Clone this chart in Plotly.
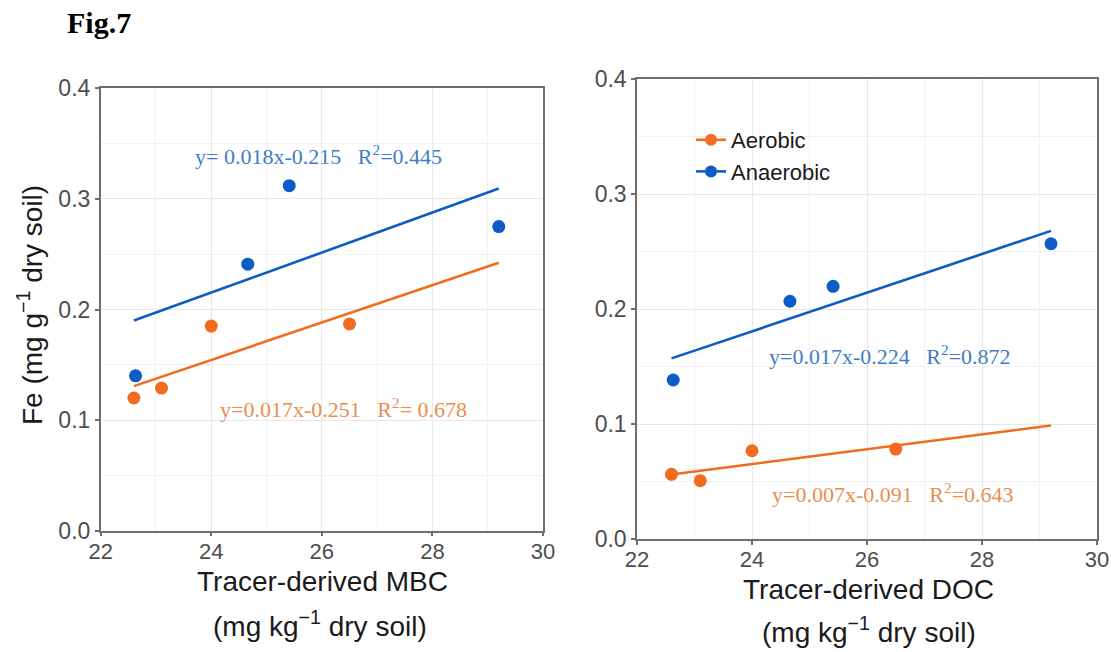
import numpy as np
import plotly.graph_objects as go

# ---- data -------------------------------------------------------------
x_aerobic = [22.6, 23.1, 24.0, 26.5]
x_anaerobic = [22.63, 24.66, 25.41, 29.2]

fe_aerobic_mbc = [0.120, 0.129, 0.185, 0.187]
fe_anaerobic_mbc = [0.140, 0.241, 0.312, 0.275]

fe_aerobic_doc = [0.0565, 0.051, 0.077, 0.0785]
fe_anaerobic_doc = [0.1385, 0.207, 0.220, 0.257]

eq_left_ana = "y= 0.018x-0.215\u00a0\u00a0\u00a0R<sup>2</sup>=0.445"
eq_left_aer = "y=0.017x-0.251\u00a0\u00a0\u00a0R<sup>2</sup>= 0.678"
eq_right_ana = "y=0.017x-0.224\u00a0\u00a0\u00a0R<sup>2</sup>=0.872"
eq_right_aer = "y=0.007x-0.091\u00a0\u00a0\u00a0R<sup>2</sup>=0.643"

x_ticks = [22, 24, 26, 28, 30]
y_ticks = [0.0, 0.1, 0.2, 0.3, 0.4]

# ---- style ------------------------------------------------------------
W, H = 1111, 652
ORANGE = "#F26B1F"
BLUE = "#0B5CC7"
ORANGE_TXT = "#E98E4E"
BLUE_TXT = "#3F7DC2"
AXIS = "#6E6E6E"
SANS = "Liberation Sans, Arial, sans-serif"
SERIF = "Liberation Serif, Times New Roman, serif"


def px(x):
    return x / W


def py(y):
    return 1 - y / H


x_all = np.array(x_aerobic + x_anaerobic)
x_fit = np.array([x_all.min(), x_all.max()])


def fit_line(xs, ys):
    k, b = np.polyfit(xs, ys, 1)
    return k * x_fit + b


fig = go.Figure()

panels = [
    ("x", "y", fe_aerobic_mbc, fe_anaerobic_mbc),
    ("x2", "y2", fe_aerobic_doc, fe_anaerobic_doc),
]
for xa, ya, aer, ana in panels:
    for xs, ys, col in ((x_aerobic, aer, ORANGE), (x_anaerobic, ana, BLUE)):
        fig.add_trace(go.Scatter(
            x=x_fit, y=fit_line(xs, ys), mode="lines",
            line=dict(color=col, width=2.6), xaxis=xa, yaxis=ya,
            showlegend=False, hoverinfo="skip"))
        fig.add_trace(go.Scatter(
            x=xs, y=ys, mode="markers",
            marker=dict(color=col, size=13), xaxis=xa, yaxis=ya,
            showlegend=False))

# legend entries
for name, col in (("Aerobic", ORANGE), ("Anaerobic", BLUE)):
    fig.add_trace(go.Scatter(
        x=[None], y=[None], mode="lines+markers", name=name,
        line=dict(color=col, width=2.6), marker=dict(color=col, size=12),
        xaxis="x2", yaxis="y2"))

axis_common = dict(
    showline=True, linecolor=AXIS, linewidth=1.5, mirror=True,
    ticks="outside", ticklen=4, tickwidth=1.5, tickcolor=AXIS,
    showgrid=True, gridcolor="#E8E8E8", gridwidth=1,
    zeroline=False, automargin=False,
)

xaxis_common = dict(axis_common, range=[22, 30], tickvals=x_ticks,
                    ticktext=[str(v) for v in x_ticks],
                    ticklabelstandoff=-4,
                    tickfont=dict(family=SANS, size=22, color="#4D4D4D"),
                    minor=dict(dtick=1, tick0=22, showgrid=True,
                               gridcolor="#F1F1F1", gridwidth=1, ticks=""))
yaxis_common = dict(axis_common, range=[0, 0.4], tickvals=y_ticks,
                    ticktext=[f"{v:.1f}" for v in y_ticks],
                    tickfont=dict(family=SANS, size=23, color="#4D4D4D"),
                    minor=dict(dtick=0.05, tick0=0, showgrid=True,
                               gridcolor="#F1F1F1", gridwidth=1, ticks=""))

fig.update_layout(
    width=W, height=H,
    margin=dict(l=0, r=0, t=0, b=0, autoexpand=False),
    paper_bgcolor="white", plot_bgcolor="white",
    xaxis=dict(xaxis_common, domain=[px(100.7), px(543)], anchor="y"),
    yaxis=dict(yaxis_common, domain=[py(530.7), py(88.3)], anchor="x"),
    xaxis2=dict(xaxis_common, domain=[px(637), px(1097)], anchor="y2"),
    yaxis2=dict(yaxis_common, domain=[py(539.3), py(79.3)], anchor="x2"),
    legend=dict(x=px(691), y=py(119), xanchor="left", yanchor="top",
                bgcolor="rgba(255,255,255,0)",
                font=dict(family=SANS, size=22, color="#1A1A1A"),
                itemwidth=30),
    showlegend=True,
)

annotations = [
    # figure label
    dict(text="<b>Fig.7</b>", x=px(65), y=py(22), xanchor="left", yanchor="middle",
         font=dict(family=SERIF, size=30, color="black")),
    # y-axis title
    dict(text="Fe (mg g<sup>\u22121</sup> dry soil)", x=px(30), y=py(305),
         textangle=-90, xanchor="center", yanchor="middle",
         font=dict(family=SANS, size=28, color="#1A1A1A")),
    # x-axis titles
    dict(text="Tracer-derived MBC", x=px(322), y=py(581), xanchor="center",
         yanchor="middle", font=dict(family=SANS, size=28, color="#1A1A1A")),
    dict(text="(mg kg<sup>\u22121</sup> dry soil)", x=px(320), y=py(624),
         xanchor="center", yanchor="middle",
         font=dict(family=SANS, size=28, color="#1A1A1A")),
    dict(text="Tracer-derived DOC", x=px(868), y=py(589), xanchor="center",
         yanchor="middle", font=dict(family=SANS, size=28, color="#1A1A1A")),
    dict(text="(mg kg<sup>\u22121</sup> dry soil)", x=px(869), y=py(630),
         xanchor="center", yanchor="middle",
         font=dict(family=SANS, size=28, color="#1A1A1A")),
    # regression equations
    dict(text=eq_left_ana, x=px(193), y=py(155), xanchor="left", yanchor="middle",
         font=dict(family=SERIF, size=22, color=BLUE_TXT)),
    dict(text=eq_left_aer, x=px(218), y=py(408), xanchor="left", yanchor="middle",
         font=dict(family=SERIF, size=22, color=ORANGE_TXT)),
    dict(text=eq_right_ana, x=px(767), y=py(355), xanchor="left", yanchor="middle",
         font=dict(family=SERIF, size=22, color=BLUE_TXT)),
    dict(text=eq_right_aer, x=px(770), y=py(493), xanchor="left", yanchor="middle",
         font=dict(family=SERIF, size=22, color=ORANGE_TXT)),
]
for a in annotations:
    a.update(xref="paper", yref="paper", showarrow=False)
fig.update_layout(annotations=annotations)

fig.write_html("out.html")
